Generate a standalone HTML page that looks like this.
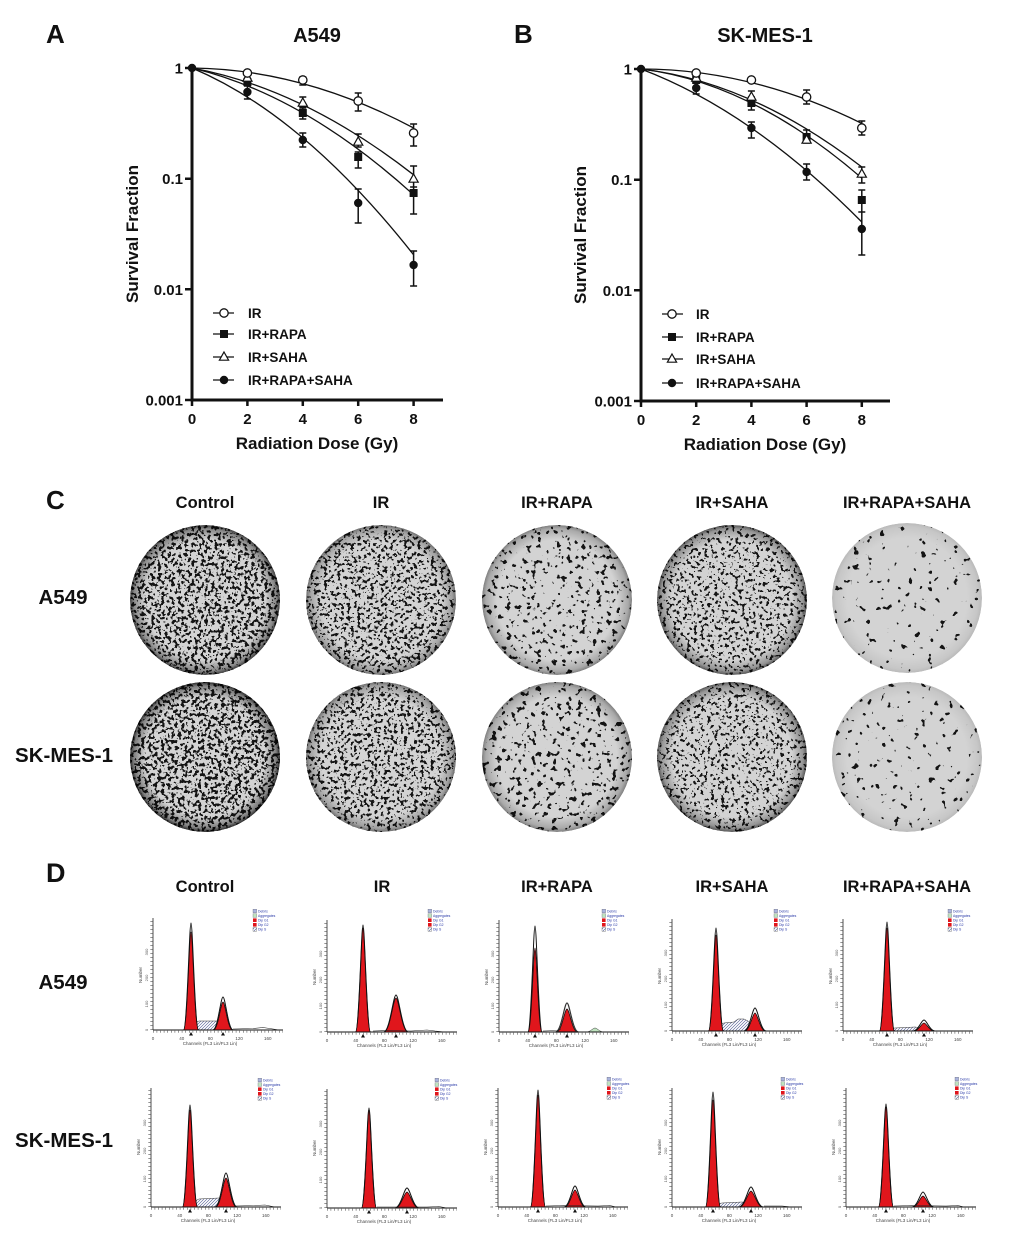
<!DOCTYPE html>
<html><head><meta charset="utf-8"><style>
html,body{margin:0;padding:0;background:#fff;}
svg{display:block;}
text{font-family:"Liberation Sans",Arial,sans-serif;}
</style></head><body>
<svg width="1020" height="1247" viewBox="0 0 1020 1247" xmlns="http://www.w3.org/2000/svg">
<defs>
 <circle id="mo" r="4.2" fill="#fff" stroke="#111" stroke-width="1.3"/>
 <rect id="ms" x="-4" y="-4" width="8" height="8" fill="#111"/>
 <path id="mt" d="M0,-5L4.6,3.2L-4.6,3.2Z" fill="#fff" stroke="#111" stroke-width="1.2"/>
 <circle id="mc" r="4.2" fill="#111"/>
 <pattern id="hatch" patternUnits="userSpaceOnUse" width="3" height="3">
  <rect width="3" height="3" fill="#fff"/>
  <path d="M0,3L3,0M-1,1L1,-1M2,4L4,2" stroke="#4a5590" stroke-width="0.6"/>
 </pattern>
 <clipPath id="pc"><circle cx="0" cy="0" r="75"/></clipPath>
 <radialGradient id="rim" cx="0.5" cy="0.5" r="0.5">
  <stop offset="0.8" stop-color="#000" stop-opacity="0"/>
  <stop offset="0.95" stop-color="#000" stop-opacity="0.4"/>
  <stop offset="1" stop-color="#000" stop-opacity="0.8"/>
 </radialGradient>
 <filter id="f1" x="0" y="0" width="1" height="1" color-interpolation-filters="sRGB"><feTurbulence type="fractalNoise" baseFrequency="0.3" numOctaves="2" seed="3"/><feColorMatrix type="matrix" values="0 0 0 0 0.08 0 0 0 0 0.08 0 0 0 0 0.08 30 0 0 0 -16.2"/></filter>
 <filter id="f2" x="0" y="0" width="1" height="1" color-interpolation-filters="sRGB"><feTurbulence type="fractalNoise" baseFrequency="0.3" numOctaves="2" seed="11"/><feColorMatrix type="matrix" values="0 0 0 0 0.08 0 0 0 0 0.08 0 0 0 0 0.08 30 0 0 0 -17.04"/></filter>
 <filter id="f3" x="0" y="0" width="1" height="1" color-interpolation-filters="sRGB"><feTurbulence type="fractalNoise" baseFrequency="0.2" numOctaves="2" seed="23"/><feColorMatrix type="matrix" values="0 0 0 0 0.08 0 0 0 0 0.08 0 0 0 0 0.08 30 0 0 0 -19.05"/></filter>
 <filter id="f4" x="0" y="0" width="1" height="1" color-interpolation-filters="sRGB"><feTurbulence type="fractalNoise" baseFrequency="0.29" numOctaves="2" seed="37"/><feColorMatrix type="matrix" values="0 0 0 0 0.08 0 0 0 0 0.08 0 0 0 0 0.08 30 0 0 0 -17.76"/></filter>
 <filter id="f5" x="0" y="0" width="1" height="1" color-interpolation-filters="sRGB"><feTurbulence type="fractalNoise" baseFrequency="0.15" numOctaves="2" seed="41"/><feColorMatrix type="matrix" values="0 0 0 0 0.08 0 0 0 0 0.08 0 0 0 0 0.08 30 0 0 0 -21"/></filter>
 <filter id="f6" x="0" y="0" width="1" height="1" color-interpolation-filters="sRGB"><feTurbulence type="fractalNoise" baseFrequency="0.3" numOctaves="2" seed="53"/><feColorMatrix type="matrix" values="0 0 0 0 0.08 0 0 0 0 0.08 0 0 0 0 0.08 30 0 0 0 -15.99"/></filter>
 <filter id="f7" x="0" y="0" width="1" height="1" color-interpolation-filters="sRGB"><feTurbulence type="fractalNoise" baseFrequency="0.3" numOctaves="2" seed="61"/><feColorMatrix type="matrix" values="0 0 0 0 0.08 0 0 0 0 0.08 0 0 0 0 0.08 30 0 0 0 -17.04"/></filter>
 <filter id="f8" x="0" y="0" width="1" height="1" color-interpolation-filters="sRGB"><feTurbulence type="fractalNoise" baseFrequency="0.2" numOctaves="2" seed="73"/><feColorMatrix type="matrix" values="0 0 0 0 0.08 0 0 0 0 0.08 0 0 0 0 0.08 30 0 0 0 -18.72"/></filter>
 <filter id="f9" x="0" y="0" width="1" height="1" color-interpolation-filters="sRGB"><feTurbulence type="fractalNoise" baseFrequency="0.29" numOctaves="2" seed="89"/><feColorMatrix type="matrix" values="0 0 0 0 0.08 0 0 0 0 0.08 0 0 0 0 0.08 30 0 0 0 -17.76"/></filter>
 <filter id="f10" x="0" y="0" width="1" height="1" color-interpolation-filters="sRGB"><feTurbulence type="fractalNoise" baseFrequency="0.15" numOctaves="2" seed="97"/><feColorMatrix type="matrix" values="0 0 0 0 0.08 0 0 0 0 0.08 0 0 0 0 0.08 30 0 0 0 -20.55"/></filter>

 <path id="gs" d="M-3,0C-1.5,0 -0.7,-1 0,-1C0.7,-1 1.5,0 3,0Z" vector-effect="non-scaling-stroke"/>
 <g id="xa">
  <line x1="0" y1="0" x2="130" y2="0" stroke="#111" stroke-width="1"/>
  <line x1="0" y1="1.8" x2="130" y2="1.8" stroke="#555" stroke-width="2" stroke-dasharray="0.6 3"/>
  <g font-size="4.5" fill="#444" text-anchor="middle">
   <text x="0" y="10">0</text><text x="28.7" y="10">40</text><text x="57.4" y="10">80</text><text x="86.1" y="10">120</text><text x="114.8" y="10">160</text>
   <text x="57" y="15">Channels (FL3 Lin/FL3 Lin)</text>
  </g>
 </g>
 <g id="ya1">
  <line x1="0" y1="0" x2="0" y2="-112" stroke="#222" stroke-width="0.8"/>
  <line x1="-1.6" y1="0" x2="-1.6" y2="-112" stroke="#555" stroke-width="2.2" stroke-dasharray="0.6 3.4"/>
  <g font-size="4" fill="#555" text-anchor="middle">
   <text transform="translate(-5,0) rotate(-90)">0</text>
   <text transform="translate(-5,-26) rotate(-90)">100</text>
   <text transform="translate(-5,-52) rotate(-90)">200</text>
   <text transform="translate(-5,-78) rotate(-90)">300</text>
  </g>
  <text transform="translate(-11,-55) rotate(-90)" font-size="4.5" fill="#444" text-anchor="middle">Number</text>
 </g>
 <g id="ya2">
  <line x1="0" y1="0" x2="0" y2="-119" stroke="#222" stroke-width="0.8"/>
  <line x1="-1.6" y1="0" x2="-1.6" y2="-119" stroke="#555" stroke-width="2.2" stroke-dasharray="0.6 3.4"/>
  <g font-size="4" fill="#555" text-anchor="middle">
   <text transform="translate(-5,0) rotate(-90)">0</text>
   <text transform="translate(-5,-28) rotate(-90)">100</text>
   <text transform="translate(-5,-56) rotate(-90)">200</text>
   <text transform="translate(-5,-84) rotate(-90)">300</text>
  </g>
  <text transform="translate(-11,-60) rotate(-90)" font-size="4.5" fill="#444" text-anchor="middle">Number</text>
 </g>
 <g id="lg">
  <rect x="0" y="-1.8" width="3.6" height="3.6" fill="#aab4dd" stroke="#556" stroke-width="0.3"/>
  <rect x="0" y="2.8" width="3.6" height="3.6" fill="#bfe3bf" stroke="#556" stroke-width="0.3"/>
  <rect x="0" y="7.4" width="3.6" height="3.6" fill="#e0161c"/>
  <rect x="0" y="12" width="3.6" height="3.6" fill="#e0161c"/>
  <rect x="0" y="16.6" width="3.6" height="3.6" fill="url(#hatch)" stroke="#333" stroke-width="0.3"/>
  <g font-size="3.4" fill="#2a3aa8">
   <text x="5" y="1.3">Debris</text><text x="5" y="5.9">Aggregates</text><text x="5" y="10.5">Dip G1</text><text x="5" y="15.1">Dip G2</text><text x="5" y="19.7">Dip S</text>
  </g>
 </g>
</defs>

<!-- ================= Panel A ================= -->
<g font-weight="bold" fill="#111">
 <text x="46" y="43" font-size="26">A</text>
 <text x="317" y="42" font-size="20" text-anchor="middle">A549</text>
 <text x="514" y="43" font-size="26">B</text>
 <text x="765" y="42" font-size="20" text-anchor="middle">SK-MES-1</text>
</g>

<path d="M192,68V400H443" stroke="#111" stroke-width="3" fill="none"/>
<path d="M185,68H192M185,178.7H192M185,289.3H192M185,400H192M247.4,400V406M302.8,400V406M358.2,400V406M413.6,400V406M192,400V406" stroke="#111" stroke-width="2.5"/>
<g font-size="15" font-weight="bold" fill="#111" text-anchor="end">
 <text x="183" y="73.5">1</text><text x="183" y="184">0.1</text><text x="183" y="295">0.01</text><text x="183" y="405.5">0.001</text>
</g>
<g font-size="15" font-weight="bold" fill="#111" text-anchor="middle">
 <text x="192" y="424">0</text><text x="247.4" y="424">2</text><text x="302.8" y="424">4</text><text x="358.2" y="424">6</text><text x="413.6" y="424">8</text>
</g>
<text x="317" y="449" font-size="17" font-weight="bold" text-anchor="middle" fill="#111">Radiation Dose (Gy)</text>
<text transform="translate(138,234) rotate(-90)" font-size="17" font-weight="bold" text-anchor="middle" fill="#111">Survival Fraction</text>

<g stroke="#111" fill="none" stroke-width="1.3">
 <path d="M192,68Q302.8,69.2 413.6,128"/>
 <path d="M192,68Q302.8,94.4 413.6,194.8"/>
 <path d="M192,68Q302.8,88.4 413.6,174.8"/>
 <path d="M192,68Q302.8,114.4 413.6,254.8"/>
 <path stroke-width="1.5" d="M247.4,71V75M243.9,71h7M243.9,75h7M302.8,77V85M299.3,77h7M299.3,85h7M358.2,93V111M354.7,93h7M354.7,111h7M413.6,124V146M410.1,124h7M410.1,146h7
 M247.4,78V86M243.9,78h7M243.9,86h7M302.8,108V119M299.3,108h7M299.3,119h7M358.2,152V168M354.7,152h7M354.7,168h7M413.6,187V214M410.1,187h7M410.1,214h7
 M302.8,97V107M299.3,97h7M299.3,107h7M358.2,134V147M354.7,134h7M354.7,147h7M413.6,166V192M410.1,166h7M410.1,192h7
 M247.4,86V99M243.9,86h7M243.9,99h7M302.8,133V147M299.3,133h7M299.3,147h7M358.2,189V223M354.7,189h7M354.7,223h7M413.6,251V286M410.1,251h7M410.1,286h7"/>
</g>
<use href="#ms" x="247.4" y="82"/><use href="#ms" x="302.8" y="113"/><use href="#ms" x="358.2" y="157"/><use href="#ms" x="413.6" y="193"/>
<use href="#mt" x="247.4" y="78"/><use href="#mt" x="302.8" y="103"/><use href="#mt" x="358.2" y="142"/><use href="#mt" x="413.6" y="179"/>
<use href="#mo" x="247.4" y="73"/><use href="#mo" x="302.8" y="80"/><use href="#mo" x="358.2" y="101"/><use href="#mo" x="413.6" y="133"/>
<use href="#mc" x="247.4" y="92"/><use href="#mc" x="302.8" y="140"/><use href="#mc" x="358.2" y="203"/><use href="#mc" x="413.6" y="265"/>
<use href="#mc" x="192" y="68"/>

<g stroke="#111" stroke-width="1.3">
 <path d="M213,313H234M213,334H234M213,357H234M213,380H234"/>
</g>
<use href="#mo" x="224" y="313"/><use href="#ms" x="224" y="334"/><use href="#mt" x="224" y="357"/><use href="#mc" x="224" y="380"/>
<g font-size="13.5" font-weight="bold" fill="#111">
 <text x="248" y="318">IR</text><text x="248" y="339">IR+RAPA</text><text x="248" y="362">IR+SAHA</text><text x="248" y="385">IR+RAPA+SAHA</text>
</g>

<!-- ================= Panel B ================= -->
<path d="M641,69V401H890" stroke="#111" stroke-width="3" fill="none"/>
<path d="M634,69H641M634,179.7H641M634,290.3H641M634,401H641M696.2,401V407M751.4,401V407M806.6,401V407M861.8,401V407M641,401V407" stroke="#111" stroke-width="2.5"/>
<g font-size="15" font-weight="bold" fill="#111" text-anchor="end">
 <text x="632" y="74.5">1</text><text x="632" y="185">0.1</text><text x="632" y="296">0.01</text><text x="632" y="406.5">0.001</text>
</g>
<g font-size="15" font-weight="bold" fill="#111" text-anchor="middle">
 <text x="641" y="425">0</text><text x="696.2" y="425">2</text><text x="751.4" y="425">4</text><text x="806.6" y="425">6</text><text x="861.8" y="425">8</text>
</g>
<text x="765" y="450" font-size="17" font-weight="bold" text-anchor="middle" fill="#111">Radiation Dose (Gy)</text>
<text transform="translate(586,235) rotate(-90)" font-size="17" font-weight="bold" text-anchor="middle" fill="#111">Survival Fraction</text>

<g stroke="#111" fill="none" stroke-width="1.3">
 <path d="M641,69Q751.4,69 861.8,123.4"/>
 <path d="M641,69Q751.4,82.6 861.8,178.1"/>
 <path d="M641,69Q751.4,82 861.8,167"/>
 <path d="M641,69Q751.4,110.6 861.8,222"/>
 <path stroke-width="1.5" d="M806.6,90V104M803.1,90h7M803.1,104h7M861.8,121V135M858.3,121h7M858.3,135h7
 M696.2,77V83M692.7,77h7M692.7,83h7M751.4,97V110M747.9,97h7M747.9,110h7M806.6,130V143M803.1,130h7M803.1,143h7M861.8,190V212M858.3,190h7M858.3,212h7
 M751.4,91V103M747.9,91h7M747.9,103h7M806.6,135V143M803.1,135h7M803.1,143h7M861.8,167V183M858.3,167h7M858.3,183h7
 M696.2,83V94M692.7,83h7M692.7,94h7M751.4,122V138M747.9,122h7M747.9,138h7M806.6,164V180M803.1,164h7M803.1,180h7M861.8,212V255M858.3,212h7M858.3,255h7"/>
</g>
<use href="#ms" x="696.2" y="80"/><use href="#ms" x="751.4" y="103"/><use href="#ms" x="806.6" y="137"/><use href="#ms" x="861.8" y="200"/>
<use href="#mt" x="696.2" y="78"/><use href="#mt" x="751.4" y="97"/><use href="#mt" x="806.6" y="140"/><use href="#mt" x="861.8" y="174"/>
<use href="#mo" x="696.2" y="73"/><use href="#mo" x="751.4" y="80"/><use href="#mo" x="806.6" y="97"/><use href="#mo" x="861.8" y="128"/>
<use href="#mc" x="696.2" y="88"/><use href="#mc" x="751.4" y="128"/><use href="#mc" x="806.6" y="172"/><use href="#mc" x="861.8" y="229"/>
<use href="#mc" x="641" y="69"/>

<g stroke="#111" stroke-width="1.3">
 <path d="M662,314H683M662,337H683M662,359H683M662,383H683"/>
</g>
<use href="#mo" x="672" y="314"/><use href="#ms" x="672" y="337"/><use href="#mt" x="672" y="359"/><use href="#mc" x="672" y="383"/>
<g font-size="13.5" font-weight="bold" fill="#111">
 <text x="696" y="319">IR</text><text x="696" y="342">IR+RAPA</text><text x="696" y="364">IR+SAHA</text><text x="696" y="388">IR+RAPA+SAHA</text>
</g>

<!-- ================= Panel C ================= -->
<g font-weight="bold" fill="#111">
 <text x="46" y="509" font-size="26">C</text>
 <g font-size="16.5" text-anchor="middle">
  <text x="205" y="508">Control</text><text x="381" y="508">IR</text><text x="557" y="508">IR+RAPA</text><text x="732" y="508">IR+SAHA</text><text x="907" y="508">IR+RAPA+SAHA</text>
 </g>
 <g font-size="20.5" text-anchor="middle">
  <text x="63" y="604">A549</text><text x="64" y="762">SK-MES-1</text>
 </g>
</g>

<g transform="translate(205,600)" clip-path="url(#pc)"><circle r="75" fill="#d3d3d3"/><rect x="-75" y="-75" width="150" height="150" filter="url(#f1)"/><circle r="75" fill="url(#rim)" opacity="0.9"/></g>
<g transform="translate(381,600)" clip-path="url(#pc)"><circle r="75" fill="#d3d3d3"/><rect x="-75" y="-75" width="150" height="150" filter="url(#f2)"/><circle r="75" fill="url(#rim)" opacity="0.6"/></g>
<g transform="translate(557,600)" clip-path="url(#pc)"><circle r="75" fill="#d3d3d3"/><rect x="-75" y="-75" width="150" height="150" filter="url(#f3)"/><circle r="75" fill="url(#rim)" opacity="0.5"/></g>
<g transform="translate(732,600)" clip-path="url(#pc)"><circle r="75" fill="#d3d3d3"/><rect x="-75" y="-75" width="150" height="150" filter="url(#f4)"/><circle r="75" fill="url(#rim)" opacity="0.75"/></g>
<g transform="translate(907,598)" clip-path="url(#pc)"><circle r="75" fill="#d3d3d3"/><rect x="-75" y="-75" width="150" height="150" filter="url(#f5)"/><circle r="75" fill="url(#rim)" opacity="0.15"/></g>

<g transform="translate(205,757)" clip-path="url(#pc)"><circle r="75" fill="#d3d3d3"/><rect x="-75" y="-75" width="150" height="150" filter="url(#f6)"/><circle r="75" fill="url(#rim)" opacity="1"/></g>
<g transform="translate(381,757)" clip-path="url(#pc)"><circle r="75" fill="#d3d3d3"/><rect x="-75" y="-75" width="150" height="150" filter="url(#f7)"/><circle r="75" fill="url(#rim)" opacity="0.6"/></g>
<g transform="translate(557,757)" clip-path="url(#pc)"><circle r="75" fill="#d3d3d3"/><rect x="-75" y="-75" width="150" height="150" filter="url(#f8)"/><circle r="75" fill="url(#rim)" opacity="0.5"/></g>
<g transform="translate(732,757)" clip-path="url(#pc)"><circle r="75" fill="#d3d3d3"/><rect x="-75" y="-75" width="150" height="150" filter="url(#f9)"/><circle r="75" fill="url(#rim)" opacity="0.75"/></g>
<g transform="translate(907,757)" clip-path="url(#pc)"><circle r="75" fill="#d3d3d3"/><rect x="-75" y="-75" width="150" height="150" filter="url(#f10)"/><circle r="75" fill="url(#rim)" opacity="0.15"/></g>

<!-- ================= Panel D ================= -->
<g font-weight="bold" fill="#111">
 <text x="46" y="882" font-size="27">D</text>
 <g font-size="16.5" text-anchor="middle">
  <text x="205" y="892">Control</text><text x="382" y="892">IR</text><text x="557" y="892">IR+RAPA</text><text x="732" y="892">IR+SAHA</text><text x="907" y="892">IR+RAPA+SAHA</text>
 </g>
 <g font-size="20.5" text-anchor="middle">
  <text x="63" y="989">A549</text><text x="64" y="1147">SK-MES-1</text>
 </g>
</g>

<!-- P1 -->
<g transform="translate(153,1030)">
 <path d="M40,0Q42,-9 46,-9L64,-9Q68,-9 71,0Z" fill="url(#hatch)" stroke="#333" stroke-width="0.5"/>
 <use href="#gs" transform="translate(38,0) scale(2.5,98)" fill="#e0161c" stroke="#111" stroke-width="0.8"/>
 <use href="#gs" transform="translate(70,0) scale(3.2,28)" fill="#e0161c" stroke="#111" stroke-width="0.8"/>
 <use href="#gs" transform="translate(38,0) scale(2.5,107)" fill="none" stroke="#111" stroke-width="1"/>
 <use href="#gs" transform="translate(70,0) scale(3.4,33)" fill="none" stroke="#111" stroke-width="1"/>
 <path d="M80,-1L100,-1.5L110,-2.5L120,-1L126,0" stroke="#222" stroke-width="0.6" fill="none"/>
 <use href="#xa"/><use href="#ya1"/>
 <path d="M36,5.5L38,2L40,5.5ZM68,5.5L70,2L72,5.5Z" fill="#111"/>
</g>
<use href="#lg" x="253" y="911"/>
<!-- P2 -->
<g transform="translate(327,1032)">
 <use href="#gs" transform="translate(36,0) scale(2.5,104)" fill="#e0161c" stroke="#111" stroke-width="0.8"/>
 <use href="#gs" transform="translate(69,0) scale(4,34)" fill="#e0161c" stroke="#111" stroke-width="0.8"/>
 <use href="#gs" transform="translate(36,0) scale(2.5,107)" fill="none" stroke="#111" stroke-width="1"/>
 <use href="#gs" transform="translate(69,0) scale(4.1,37)" fill="none" stroke="#111" stroke-width="1"/>
 <path d="M46,-1L60,-1.5L84,-1L100,-2L108,-1L118,0" stroke="#222" stroke-width="0.6" fill="none"/>
 <use href="#xa"/><use href="#ya1"/>
 <path d="M34,5.5L36,2L38,5.5ZM67,5.5L69,2L71,5.5Z" fill="#111"/>
</g>
<use href="#lg" x="428" y="911"/>
<!-- P3 -->
<g transform="translate(499,1032)">
 <use href="#gs" transform="translate(96,0) scale(3,4)" fill="#bfe3bf" stroke="#333" stroke-width="0.5"/>
 <use href="#gs" transform="translate(36,0) scale(2.3,84)" fill="#e0161c" stroke="#111" stroke-width="0.8"/>
 <use href="#gs" transform="translate(68,0) scale(3.5,23)" fill="#e0161c" stroke="#111" stroke-width="0.8"/>
 <use href="#gs" transform="translate(36,0) scale(2.4,106)" fill="none" stroke="#111" stroke-width="1"/>
 <use href="#gs" transform="translate(68,0) scale(3.8,29)" fill="none" stroke="#333" stroke-width="1.2"/>
 <path d="M44,-1L58,-1.5L62,-3" stroke="#222" stroke-width="0.6" fill="none"/>
 <use href="#xa"/><use href="#ya1"/>
 <path d="M34,5.5L36,2L38,5.5ZM66,5.5L68,2L70,5.5Z" fill="#111"/>
</g>
<use href="#lg" x="602" y="911"/>
<!-- P4 -->
<g transform="translate(672,1031)">
 <path d="M46,0Q48,-8 52,-8L62,-9L66,-12L72,-12L76,-10Q80,-6 82,0Z" fill="url(#hatch)" stroke="#333" stroke-width="0.5"/>
 <use href="#gs" transform="translate(44,0) scale(2.5,96)" fill="#e0161c" stroke="#111" stroke-width="0.8"/>
 <use href="#gs" transform="translate(83,0) scale(3.5,18)" fill="#e0161c" stroke="#111" stroke-width="0.8"/>
 <use href="#gs" transform="translate(44,0) scale(2.5,103)" fill="none" stroke="#111" stroke-width="1"/>
 <use href="#gs" transform="translate(83,0) scale(3.7,23)" fill="none" stroke="#111" stroke-width="1"/>
 <use href="#xa"/><use href="#ya1"/>
 <path d="M42,5.5L44,2L46,5.5ZM81,5.5L83,2L85,5.5Z" fill="#111"/>
</g>
<use href="#lg" x="774" y="911"/>
<!-- P5 -->
<g transform="translate(843,1031)">
 <path d="M48,0Q49,-3 52,-3L72,-4Q76,-4 78,0Z" fill="url(#hatch)" stroke="#333" stroke-width="0.5"/>
 <use href="#gs" transform="translate(44,0) scale(2.5,103)" fill="#e0161c" stroke="#111" stroke-width="0.8"/>
 <use href="#gs" transform="translate(81,0) scale(3.5,8)" fill="#e0161c" stroke="#111" stroke-width="0.8"/>
 <use href="#gs" transform="translate(44,0) scale(2.5,109)" fill="none" stroke="#111" stroke-width="1"/>
 <use href="#gs" transform="translate(81,0) scale(3.8,11)" fill="none" stroke="#111" stroke-width="1"/>
 <use href="#xa"/><use href="#ya1"/>
 <path d="M42,5.5L44,2L46,5.5ZM79,5.5L81,2L83,5.5Z" fill="#111"/>
</g>
<use href="#lg" x="948" y="911"/>

<!-- Q1 -->
<g transform="translate(151,1207)">
 <path d="M43,0Q45,-8 48,-8L68,-9Q72,-9 74,0Z" fill="url(#hatch)" stroke="#333" stroke-width="0.5"/>
 <use href="#gs" transform="translate(39,0) scale(2.5,97)" fill="#e0161c" stroke="#111" stroke-width="0.8"/>
 <use href="#gs" transform="translate(75,0) scale(3.5,29)" fill="#e0161c" stroke="#111" stroke-width="0.8"/>
 <use href="#gs" transform="translate(39,0) scale(2.5,102)" fill="none" stroke="#111" stroke-width="1"/>
 <use href="#gs" transform="translate(75,0) scale(3.7,34)" fill="none" stroke="#111" stroke-width="1"/>
 <path d="M84,-1L104,-1.5L114,-2L124,0" stroke="#222" stroke-width="0.6" fill="none"/>
 <use href="#xa"/><use href="#ya2"/>
 <path d="M37,5.5L39,2L41,5.5ZM73,5.5L75,2L77,5.5Z" fill="#111"/>
</g>
<use href="#lg" x="258" y="1080"/>
<!-- Q2 -->
<g transform="translate(327,1208)">
 <use href="#gs" transform="translate(42,0) scale(2.5,98)" fill="#e0161c" stroke="#111" stroke-width="0.8"/>
 <use href="#gs" transform="translate(80,0) scale(4,16)" fill="#e0161c" stroke="#111" stroke-width="0.8"/>
 <use href="#gs" transform="translate(42,0) scale(2.5,100)" fill="none" stroke="#111" stroke-width="1"/>
 <use href="#gs" transform="translate(80,0) scale(4.1,20)" fill="none" stroke="#111" stroke-width="1"/>
 <path d="M50,-1L68,-1L100,-1L112,-1.5L120,0" stroke="#222" stroke-width="0.6" fill="none"/>
 <use href="#xa"/><use href="#ya2"/>
 <path d="M40,5.5L42,2L44,5.5ZM78,5.5L80,2L82,5.5Z" fill="#111"/>
</g>
<use href="#lg" x="435" y="1080"/>
<!-- Q3 -->
<g transform="translate(498,1207)">
 <use href="#gs" transform="translate(40,0) scale(2.5,112)" fill="#e0161c" stroke="#111" stroke-width="0.8"/>
 <use href="#gs" transform="translate(77,0) scale(3.5,17)" fill="#e0161c" stroke="#111" stroke-width="0.8"/>
 <use href="#gs" transform="translate(40,0) scale(2.5,117)" fill="none" stroke="#111" stroke-width="1"/>
 <use href="#gs" transform="translate(77,0) scale(3.7,21)" fill="none" stroke="#111" stroke-width="1"/>
 <path d="M48,-1L66,-1.5L100,-1L112,-1.5L118,0" stroke="#222" stroke-width="0.6" fill="none"/>
 <use href="#xa"/><use href="#ya2"/>
 <path d="M38,5.5L40,2L42,5.5ZM75,5.5L77,2L79,5.5Z" fill="#111"/>
</g>
<use href="#lg" x="607" y="1079"/>
<!-- Q4 -->
<g transform="translate(672,1207)">
 <path d="M45,0Q47,-4 50,-4L70,-5Q74,-5 76,0Z" fill="url(#hatch)" stroke="#333" stroke-width="0.5"/>
 <use href="#gs" transform="translate(41,0) scale(2.5,107)" fill="#e0161c" stroke="#111" stroke-width="0.8"/>
 <use href="#gs" transform="translate(79,0) scale(4,16)" fill="#e0161c" stroke="#111" stroke-width="0.8"/>
 <use href="#gs" transform="translate(41,0) scale(2.5,115)" fill="none" stroke="#111" stroke-width="1"/>
 <use href="#gs" transform="translate(79,0) scale(4.1,20)" fill="none" stroke="#111" stroke-width="1"/>
 <path d="M92,-1L110,-1L120,0" stroke="#222" stroke-width="0.6" fill="none"/>
 <use href="#xa"/><use href="#ya2"/>
 <path d="M39,5.5L41,2L43,5.5ZM77,5.5L79,2L81,5.5Z" fill="#111"/>
</g>
<use href="#lg" x="781" y="1079"/>
<!-- Q5 -->
<g transform="translate(846,1207)">
 <use href="#gs" transform="translate(40,0) scale(2.5,100)" fill="#e0161c" stroke="#111" stroke-width="0.8"/>
 <use href="#gs" transform="translate(77,0) scale(3.5,11)" fill="#e0161c" stroke="#111" stroke-width="0.8"/>
 <use href="#gs" transform="translate(40,0) scale(2.5,103)" fill="none" stroke="#111" stroke-width="1"/>
 <use href="#gs" transform="translate(77,0) scale(3.7,15)" fill="none" stroke="#111" stroke-width="1"/>
 <path d="M48,-1L66,-1.5L100,-1L112,-1.5L118,0" stroke="#222" stroke-width="0.6" fill="none"/>
 <use href="#xa"/><use href="#ya2"/>
 <path d="M38,5.5L40,2L42,5.5ZM75,5.5L77,2L79,5.5Z" fill="#111"/>
</g>
<use href="#lg" x="955" y="1079"/>
</svg>
</body></html>
